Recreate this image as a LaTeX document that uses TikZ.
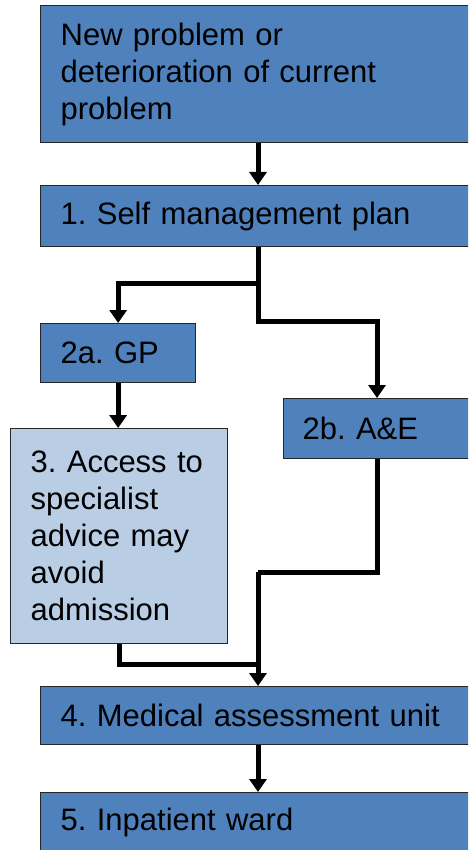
\documentclass[tikz,border=0pt]{standalone}
\usepackage{fontspec}
\setmainfont{Liberation Sans}
\usetikzlibrary{arrows.meta}
\definecolor{boxblue}{RGB}{79,129,189}
\definecolor{boxlight}{RGB}{185,205,229}
\frenchspacing
\begin{document}
\begin{tikzpicture}[x=1pt,y=-1pt,
  flowbox/.style={draw=black!85, line width=1.3pt, fill=boxblue, anchor=north west,
    inner xsep=20pt, inner ysep=0pt, align=left,
    font=\fontsize{31}{37}\selectfont\frenchspacing, text=black},
  conn/.style={line width=5pt, draw=black, line join=miter},
  arr/.style={conn, -{Triangle[width=17pt,length=13pt]}}]
\clip (0,0) rectangle (468,850);
\fill[white] (0,0) rectangle (468,850);
\node[flowbox, text width=400pt, minimum height=137pt] (top) at (40,5)
  {New problem or\\deterioration of current\\problem};
\node[flowbox, text width=400pt, minimum height=61pt] (s1) at (40,185)
  {1. Self management plan};
\node[flowbox, text width=115pt, minimum height=59pt] (gp) at (40,323)
  {2a. GP};
\node[flowbox, text width=161pt, minimum height=60pt, inner xsep=19pt] (ae) at (283,398)
  {2b. A\&E};
\node[flowbox, fill=boxlight, text width=187pt, minimum height=215pt, inner xsep=15pt] (sp) at (10,428)
  {\hspace*{5pt}3. Access to\\\hspace*{5pt}specialist\\\hspace*{5pt}advice may\\\hspace*{5pt}avoid\\\hspace*{5pt}admission};
\node[flowbox, text width=400pt, minimum height=58pt] (mau) at (40,686)
  {4. Medical assessment unit};
\node[flowbox, text width=400pt, minimum height=60pt] (ward) at (40,792)
  {5. Inpatient ward};
\coordinate (xm) at (258,0);
\coordinate (xr) at (377,0);
\coordinate (j1) at (258,283);
\coordinate (j2) at (258,321);
\coordinate (j3) at (377,572);
\coordinate (j4) at (258,572);
\coordinate (j5) at (258,664);
\draw[arr] (top.south -| xm) -- (s1.north -| xm);
\draw[arr] (s1.south -| xm) -- (j1) -| (gp.north);
\draw[arr] (j1) -- (j2) -| (ae.north -| xr);
\draw[arr] (gp.south) -- (gp.south |- sp.north);
\draw[conn] (ae.south -| xr) -- (j3) -- (j4);
\draw[conn] (sp.south) |- (j5);
\draw[arr] (j4) -- (mau.north -| xm);
\draw[arr] (mau.south -| xm) -- (ward.north -| xm);
\end{tikzpicture}
\end{document}
